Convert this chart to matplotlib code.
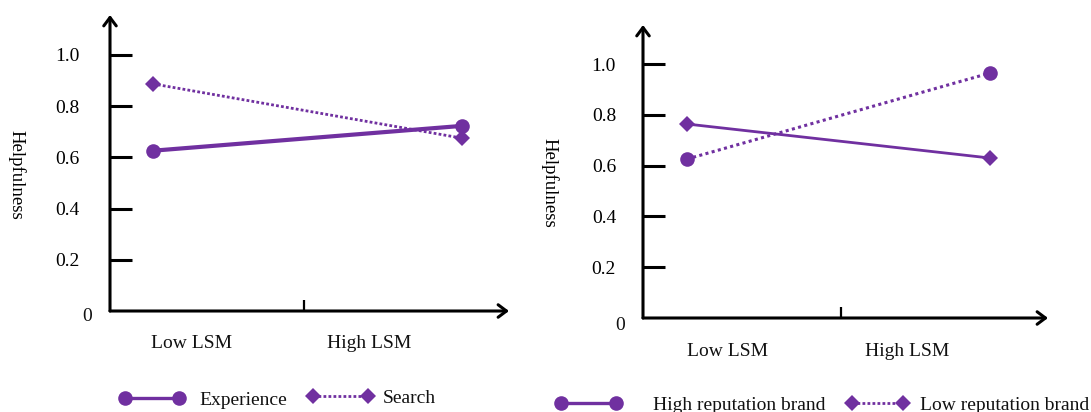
import matplotlib
matplotlib.use("Agg")
import matplotlib.pyplot as plt
from matplotlib.lines import Line2D

# ---------------- data ----------------
categories = ["Low LSM", "High LSM"]
y_ticks = [0.2, 0.4, 0.6, 0.8, 1.0]
y_tick_labels = ["0.2", "0.4", "0.6", "0.8", "1.0"]

# left panel
experience = [0.626, 0.723]
search = [0.887, 0.675]

# right panel (as drawn: solid line with diamonds, dotted line with circles)
high_reputation = [0.764, 0.630]
low_reputation = [0.626, 0.965]

# ---------------- style ----------------
PURPLE = "#7030A0"
FONT = ["Liberation Serif", "DejaVu Serif"]
plt.rcParams["font.family"] = FONT
plt.rcParams["text.color"] = "#111111"

W, H = 1091, 412
fig = plt.figure(figsize=(W / 100, H / 100), dpi=100)


def add_axes_px(left, right, top, bottom):
    return fig.add_axes([left / W, (H - bottom) / H, (right - left) / W, (bottom - top) / H])


def style_axes(ax, xlim, ylim, midtick, cat_x, cat_y, zero_x, zero_y, label_xy, pad):
    ax.set_xlim(*xlim)
    ax.set_ylim(*ylim)
    for s in ax.spines.values():
        s.set_visible(False)
    ax.set_yticks(y_ticks)
    ax.set_yticklabels(y_tick_labels)
    ax.tick_params(axis="y", direction="in", length=15.8, width=2.2, color="black",
                   labelsize=14, pad=pad)
    ax.set_xticks([midtick])
    ax.tick_params(axis="x", direction="in", length=8, width=1.6, color="black",
                   labelbottom=False)
    # axis arrows
    arrow = dict(arrowstyle="->,head_length=0.6,head_width=0.45", lw=2.2, color="black",
                 shrinkA=0, shrinkB=0, mutation_scale=10)
    ax.annotate("", xy=(0, 1), xytext=(0, 0), xycoords="axes fraction",
                arrowprops=arrow, annotation_clip=False)
    ax.annotate("", xy=(1, 0), xytext=(0, 0), xycoords="axes fraction",
                arrowprops=arrow, annotation_clip=False)
    # category labels
    for x, c in zip(cat_x, categories):
        ax.text(x, cat_y, c, transform=ax.get_xaxis_transform(), ha="center",
                va="center", fontsize=14)
    ax.text(zero_x, zero_y, "0", transform=ax.transAxes, ha="center", va="center",
            fontsize=14)
    ax.set_ylabel("Helpfulness", rotation=270, va="center", ha="center", fontsize=13.5)
    ax.yaxis.set_label_coords(*label_xy)


def legend_entry(handle, label, x_px, y_px, length_px, textpad):
    fs = 14
    fs_px = fs * 100 / 72
    pad = 0.3 * fs_px
    leg = fig.legend(handles=[handle], labels=[label], loc="center left",
                     bbox_to_anchor=((x_px - pad) / W, (H - y_px) / H),
                     frameon=False, fontsize=fs, numpoints=2,
                     handlelength=(length_px + 2 * pad) / fs_px,
                     handletextpad=textpad, borderpad=0, borderaxespad=0)
    return leg


# ---------------- left panel ----------------
axL = add_axes_px(110, 509, 15, 311)
style_axes(axL, xlim=(-0.139, 1.152), ylim=(0, 1.156), midtick=0.489,
           cat_x=[0.126, 0.699], cat_y=-0.111, zero_x=-0.058, zero_y=-0.02,
           label_xy=(-0.2356, 0.459), pad=21.6)
xs = [0, 1]
axL.plot(xs, experience, color=PURPLE, lw=3.0, marker="o", markersize=10.5,
         markeredgewidth=0, solid_capstyle="round", zorder=3)
axL.plot(xs, search, color=PURPLE, lw=2.0, linestyle=(0, (1, 0.8)), marker="D",
         markersize=8, markeredgewidth=0, zorder=3)

h_exp = Line2D([], [], color=PURPLE, lw=2.4, marker="o", markersize=10.5, markeredgewidth=0)
h_sea = Line2D([], [], color=PURPLE, lw=2.0, linestyle=(0, (1, 0.8)), marker="D",
               markersize=8, markeredgewidth=0)
legend_entry(h_exp, "Experience", 125, 400, 54, 0.73)
legend_entry(h_sea, "Search", 313, 398, 55, 0.47)

# ---------------- right panel ----------------
axR = add_axes_px(643, 1048, 25, 318)
style_axes(axR, xlim=(-0.145, 1.191), ylim=(0, 1.154), midtick=0.508,
           cat_x=[0.135, 0.726], cat_y=-0.113, zero_x=-0.057, zero_y=-0.024,
           label_xy=(-0.232, 0.461), pad=19.4)
axR.plot(xs, high_reputation, color=PURPLE, lw=2.0, marker="D", markersize=8,
         markeredgewidth=0, zorder=3)
axR.plot(xs, low_reputation, color=PURPLE, lw=2.2, linestyle=(0, (1, 1.1)), marker="o",
         markersize=10.5, markeredgewidth=0, zorder=3)

h_high = Line2D([], [], color=PURPLE, lw=2.4, marker="o", markersize=10.5, markeredgewidth=0)
h_low = Line2D([], [], color=PURPLE, lw=2.0, linestyle=(0, (1, 0.8)), marker="D",
               markersize=8, markeredgewidth=0)
legend_entry(h_high, "High reputation brand", 561, 405, 55, 1.6)
legend_entry(h_low, "Low reputation brand", 852, 405, 51, 0.58)

fig.savefig("out.png", dpi=100)
